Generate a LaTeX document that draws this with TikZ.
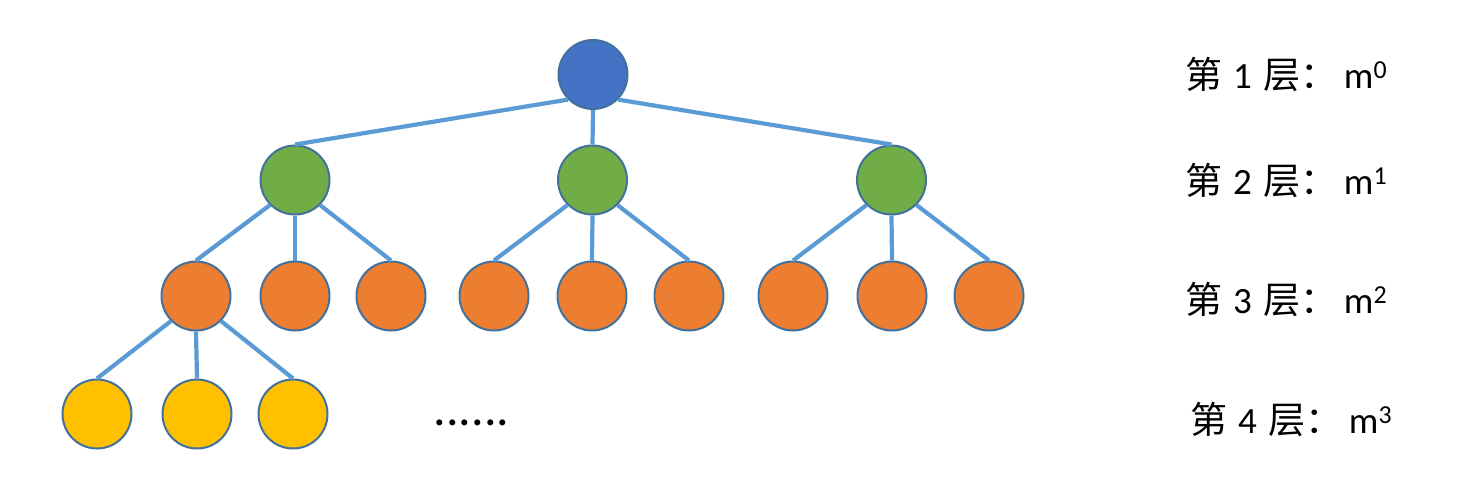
\documentclass[tikz,border=0pt]{standalone}
\usepackage{fontspec}
\setmainfont{Carlito}
\newfontfamily\cjk{Noto Sans CJK SC}
\definecolor{rootc}{HTML}{4472C4}
\definecolor{greenc}{HTML}{70AD47}
\definecolor{orangec}{HTML}{ED7D31}
\definecolor{yellowc}{HTML}{FFC000}
\definecolor{linec}{HTML}{5B9BD5}
\definecolor{bordc}{HTML}{41719C}
\newcommand{\layertext}[2]{{\cjk 第}\hspace{11pt}#1\hspace{12pt}{\cjk 层：}\hspace{6pt}m\textsuperscript{#2}}
\begin{document}
\begin{tikzpicture}[x=1pt,y=-1pt,
  ball/.style={circle, inner sep=0pt, minimum size=69pt, draw=bordc, line width=2pt},
  edge/.style={draw=linec, line width=4.2pt},
  lbl/.style={anchor=base west, inner sep=0pt, font=\fontsize{37}{40}\selectfont}]
\useasboundingbox (0,0) rectangle (1480,485);
% level 1
\node[ball, fill=rootc] (r) at (593,74.5) {};
% level 2
\node[ball, fill=greenc] (g1) at (295,180) {};
\node[ball, fill=greenc] (g2) at (592.5,180) {};
\node[ball, fill=greenc] (g3) at (891.5,180) {};
% level 3
\node[ball, fill=orangec] (o1) at (196,296) {};
\node[ball, fill=orangec] (o2) at (295,296) {};
\node[ball, fill=orangec] (o3) at (391,296) {};
\node[ball, fill=orangec] (o4) at (494,296) {};
\node[ball, fill=orangec] (o5) at (592,296) {};
\node[ball, fill=orangec] (o6) at (689,296) {};
\node[ball, fill=orangec] (o7) at (793,296) {};
\node[ball, fill=orangec] (o8) at (892,296) {};
\node[ball, fill=orangec] (o9) at (989,296) {};
% level 4
\node[ball, fill=yellowc] (y1) at (97,414) {};
\node[ball, fill=yellowc] (y2) at (197,414) {};
\node[ball, fill=yellowc] (y3) at (293,414) {};
% edges
\path[edge] (r.south west) -- (g1.north);
\path[edge] (r.south) -- (g2.north);
\path[edge] (r.south east) -- (g3.north);
\path[edge] (g1.south west) -- (o1.north);
\path[edge] (g1.south) -- (o2.north);
\path[edge] (g1.south east) -- (o3.north);
\path[edge] (g2.south west) -- (o4.north);
\path[edge] (g2.south) -- (o5.north);
\path[edge] (g2.south east) -- (o6.north);
\path[edge] (g3.south west) -- (o7.north);
\path[edge] (g3.south) -- (o8.north);
\path[edge] (g3.south east) -- (o9.north);
\path[edge] (o1.south west) -- (y1.north);
\path[edge] (o1.south) -- (y2.north);
\path[edge] (o1.south east) -- (y3.north);
% dots
\node[inner sep=0pt, font=\fontsize{50}{52}\selectfont] (dots) at (471.5,423) {......};
% labels
\node[lbl] (t1) at (1185,88) {\layertext{1}{0}};
\node[lbl] (t2) at (1185,194) {\layertext{2}{1}};
\node[lbl] (t3) at (1185,313) {\layertext{3}{2}};
\node[lbl] (t4) at (1190,433) {\layertext{4}{3}};
\end{tikzpicture}
\end{document}
